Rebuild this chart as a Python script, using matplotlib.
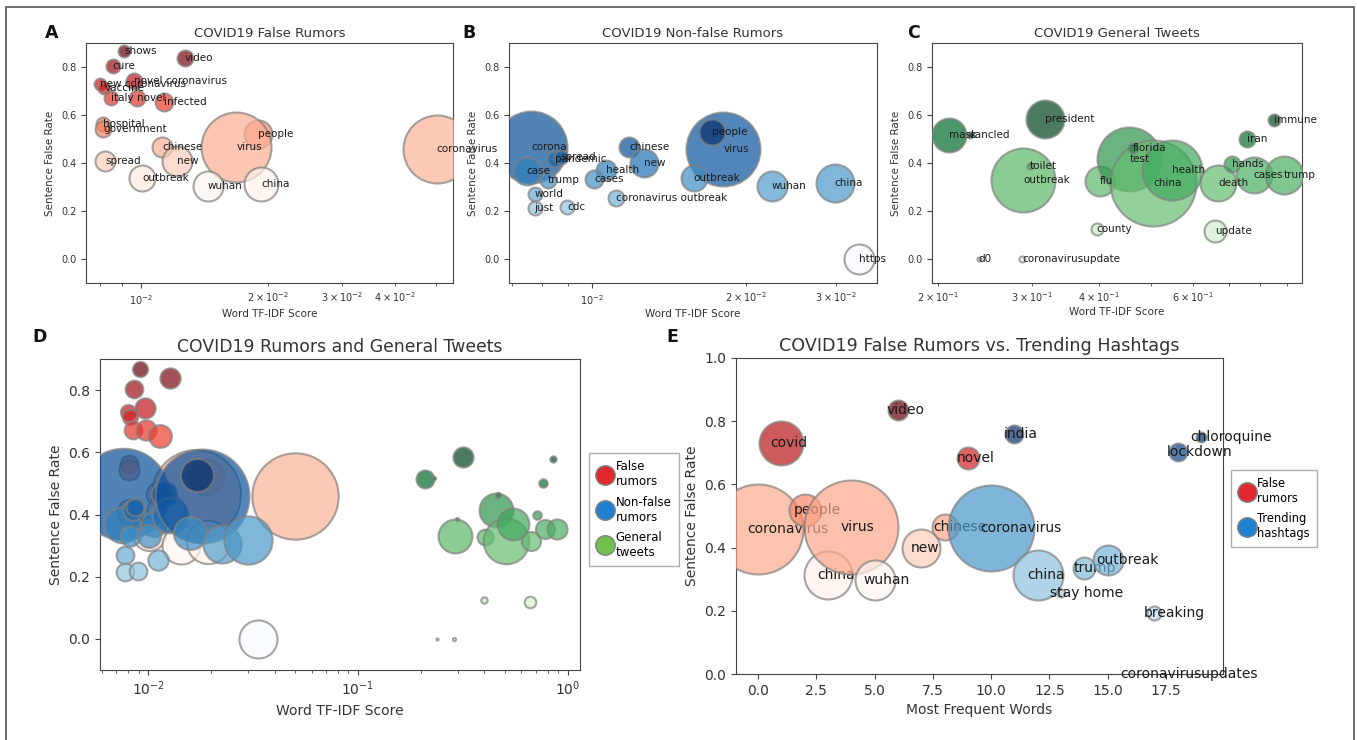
import matplotlib
matplotlib.use("Agg")
import matplotlib.pyplot as plt
from matplotlib.lines import Line2D
from matplotlib.patches import Rectangle
from matplotlib.colors import Normalize

# ---------------- data ----------------
# A: COVID19 false rumors
fr_words = ["shows", "video", "cure", "new coronavirus", "novel coronavirus", "vaccine",
            "italy", "novel", "infected", "hospital", "government", "people", "chinese",
            "virus", "coronavirus", "new", "spread", "outbreak", "wuhan", "china"]
fr_tfidf = [0.00913, 0.01272, 0.00856, 0.00799, 0.00964, 0.00818, 0.00849, 0.00977,
            0.01136, 0.00814, 0.00814, 0.01894, 0.01122, 0.01682, 0.0503, 0.01216,
            0.00821, 0.01006, 0.0144, 0.01929]
fr_rate = [0.867, 0.839, 0.804, 0.728, 0.742, 0.714, 0.672, 0.672, 0.654, 0.563, 0.543,
           0.522, 0.466, 0.466, 0.459, 0.408, 0.408, 0.337, 0.303, 0.313]
fr_freq = [6, 8, 7, 6, 8, 6, 7, 8, 9, 7, 8, 14, 10, 35, 34, 15, 10, 13, 15, 17]

# B: COVID19 non-false rumors
nf_words = ["corona", "case", "pandemic", "spread", "trump", "world", "just", "cdc",
            "health", "cases", "chinese", "new", "virus", "people", "outbreak", "wuhan",
            "china", "coronavirus outbreak", "https"]
nf_tfidf = [0.00763, 0.00747, 0.00848, 0.00870, 0.00822, 0.00774, 0.00774, 0.00897,
            0.01065, 0.01013, 0.01186, 0.01268, 0.01810, 0.01718, 0.01582, 0.02247,
            0.02985, 0.01117, 0.0333]
nf_rate = [0.465, 0.365, 0.416, 0.423, 0.330, 0.270, 0.214, 0.218, 0.370, 0.332, 0.465,
           0.400, 0.458, 0.528, 0.339, 0.304, 0.318, 0.253, 0.0]
nf_freq = [36, 14, 8, 7, 8, 7, 7, 7, 10, 9, 10, 14, 37, 13, 13, 15, 19, 8, 15]

# C: COVID19 general tweets
gt_words = ["mask", "cancled", "president", "outbreak", "toilet", "flu", "test", "china",
            "health", "florida", "death", "hands", "cases", "trump", "iran", "immune",
            "county", "update", "d0", "coronavirusupdate"]
gt_tfidf = [0.2094, 0.2292, 0.3168, 0.2886, 0.2971, 0.4017, 0.4559, 0.5057, 0.5472,
            0.4638, 0.6692, 0.7091, 0.7785, 0.8861, 0.7563, 0.8486, 0.396, 0.6597,
            0.2386, 0.2877]
gt_rate = [0.515, 0.518, 0.585, 0.33, 0.387, 0.327, 0.415, 0.315, 0.369, 0.463, 0.316,
           0.397, 0.352, 0.352, 0.501, 0.58, 0.125, 0.118, 0.0, 0.0]
gt_freq = [17, 3, 19, 32, 3, 15, 32, 43, 30, 5, 18, 8, 18, 19, 8, 6, 6, 11, 2, 3]

# E: false rumors vs trending hashtags
e_words = ["coronavirus", "covid", "people", "china", "virus", "wuhan", "video", "new",
           "chinese", "novel",
           "coronavirus", "india", "china", "stay home", "trump", "outbreak",
           "coronavirusupdates", "breaking", "lockdown", "chloroquine"]
e_rank = list(range(20))
e_rate = [0.459, 0.731, 0.519, 0.313, 0.466, 0.297, 0.835, 0.399, 0.466, 0.685,
          0.462, 0.759, 0.313, 0.256, 0.335, 0.361, 0.0, 0.193, 0.703, 0.75]
e_freq = [45, 22, 16, 24, 47, 20, 10, 19, 13, 11,
          43, 9, 25, 4, 11, 15, 1, 7, 9, 5]
e_split = 10  # first 10 are false-rumor words, rest trending hashtags

# ---------------- figure ----------------
W, H = 1357, 740
fig = plt.figure(figsize=(W / 100, H / 100), dpi=100)

TXT = "#1a1a1a"
SP = "#444444"


def style(ax, fs):
    for s in ax.spines.values():
        s.set_color(SP)
    ax.tick_params(colors=SP, labelcolor="#333333", labelsize=fs, which="both")


def bubbles(ax, xs, ys, freq, cmap, words=None, scale=1.0, dx=0.0, fs=7.5, z0=3,
            text_on_top=True):
    norm = Normalize(min(ys), max(ys))
    for i, (x, y, r) in enumerate(zip(xs, ys, freq)):
        ax.scatter([x], [y], s=(1.44 * r * scale) ** 2, c=[y], cmap=cmap, norm=norm,
                   alpha=0.7, edgecolors="gray", linewidths=1.5, zorder=z0 + 2 * i)
        if words is not None:
            z = 500 + i if text_on_top else z0 + 2 * i + 1
            ax.text(x + dx, y, words[i], fontsize=fs, ha="left", va="center",
                    color=TXT, zorder=z)


def px_axes(l, t, r, b):
    return fig.add_axes([l / W, (H - b) / H, (r - l) / W, (b - t) / H])


small = 7
# A
axA = px_axes(86, 43, 453, 283)
bubbles(axA, fr_tfidf, fr_rate, fr_freq, "Reds", fr_words)
axA.set_xscale("log")
axA.set_xlim(0.0074, 0.055)
# B
axB = px_axes(509, 43, 877, 283)
bubbles(axB, nf_tfidf, nf_rate, nf_freq, "Blues", nf_words)
axB.set_xscale("log")
axB.set_xlim(0.0069, 0.0361)
# C
axC = px_axes(932, 43, 1302, 283)
bubbles(axC, gt_tfidf, gt_rate, gt_freq, "Greens", gt_words)
axC.set_xscale("log")
axC.set_xlim(0.195, 0.959)

for ax, title in [(axA, "COVID19 False Rumors"), (axB, "COVID19 Non-false Rumors"),
                  (axC, "COVID19 General Tweets")]:
    ax.set_ylim(-0.1, 0.9)
    ax.set_title(title, fontsize=9.5, color="#333333", pad=4)
    ax.set_xlabel("Word TF-IDF Score", fontsize=7.5, color="#333333", labelpad=2)
    ax.set_ylabel("Sentence False Rate", fontsize=7.5, color="#333333")
    style(ax, small)

# D
axD = px_axes(100, 359, 580, 670)
bubbles(axD, fr_tfidf, fr_rate, fr_freq, "Reds", scale=1.27, z0=3)
bubbles(axD, nf_tfidf, nf_rate, nf_freq, "Blues", scale=1.27, z0=60)
bubbles(axD, gt_tfidf, gt_rate, gt_freq, "Greens", scale=0.53, z0=120)
axD.set_xscale("log")
axD.set_xlim(0.0059, 1.14)
axD.set_ylim(-0.1, 0.9)
axD.set_title("COVID19 Rumors and General Tweets", fontsize=12.4, color="#333333", pad=5)
axD.set_xlabel("Word TF-IDF Score", fontsize=10, color="#333333")
axD.set_ylabel("Sentence False Rate", fontsize=10, color="#333333")
style(axD, 10)

legD = [Line2D([], [], marker="o", ls="", markersize=14, markerfacecolor=c,
               markeredgecolor="gray", label=l)
        for c, l in [("#e0282e", "False\nrumors"), ("#1f80d0", "Non-false\nrumors"),
                     ("#72c04c", "General\ntweets")]]
lg = axD.legend(handles=legD, loc="center left", bbox_to_anchor=(1.018, 0.516),
                fontsize=8.5, frameon=True, fancybox=False, handletextpad=0.1,
                borderpad=0.6, labelspacing=0.6, handlelength=1.6, borderaxespad=0)
lg.get_frame().set_edgecolor("#999999")

# E
axE = px_axes(736, 358, 1223, 674)
bubbles(axE, e_rank[:e_split], e_rate[:e_split], e_freq[:e_split], "Reds",
        e_words[:e_split], dx=-0.47, fs=10, z0=3, text_on_top=False)
bubbles(axE, e_rank[e_split:], e_rate[e_split:], e_freq[e_split:], "Blues",
        e_words[e_split:], dx=-0.47, fs=10, z0=40, text_on_top=False)
axE.set_xlim(-0.95, 19.95)
axE.set_ylim(0, 1.0)
axE.set_title("COVID19 False Rumors vs. Trending Hashtags", fontsize=12.6,
              color="#333333", pad=5)
axE.set_xlabel("Most Frequent Words", fontsize=10, color="#333333")
axE.set_ylabel("Sentence False Rate", fontsize=10, color="#333333")
style(axE, 10)
legE = [Line2D([], [], marker="o", ls="", markersize=14, markerfacecolor=c,
               markeredgecolor="gray", label=l)
        for c, l in [("#e0282e", "False\nrumors"), ("#1f80d0", "Trending\nhashtags")]]
lg2 = axE.legend(handles=legE, loc="center left", bbox_to_anchor=(1.016, 0.524),
                 fontsize=8.3, frameon=True, fancybox=False, handletextpad=0.1,
                 borderpad=0.6, labelspacing=0.6, handlelength=1.6, borderaxespad=0)
lg2.get_frame().set_edgecolor("#999999")

# panel letters
for letter, (x, y) in {"A": (52, 33), "B": (469, 33), "C": (913, 33),
                       "D": (40, 337), "E": (672, 337)}.items():
    fig.text(x / W, (H - y) / H, letter, fontsize=12.5, fontweight="bold",
             ha="center", va="center", color="#111111")

# outer frame
fig.patches.append(Rectangle((6 / W, -0.02), (1354 - 6) / W, (H - 7) / H + 0.02,
                             transform=fig.transFigure, fill=False,
                             edgecolor="#555555", linewidth=1.2))

fig.savefig("out.png", dpi=100)
